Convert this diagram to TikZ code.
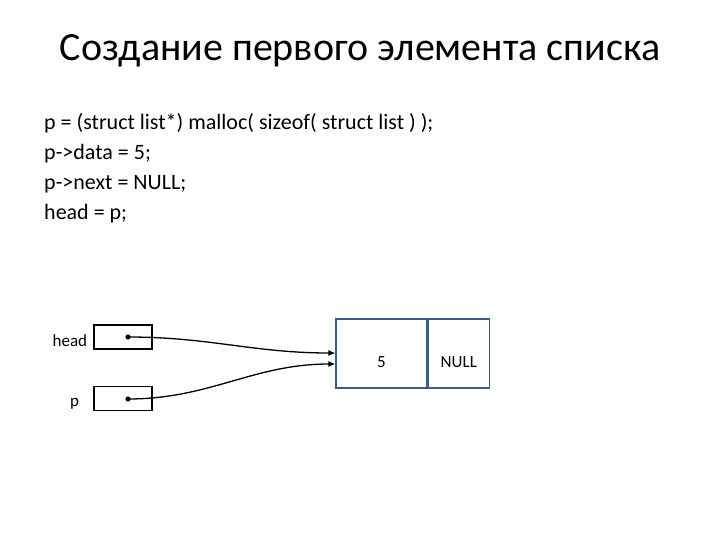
\documentclass[tikz,border=0pt]{standalone}
\usepackage{fontspec}
\setmainfont{Carlito}
\usepackage{tikz}
\usetikzlibrary{arrows.meta, positioning, calc}
\definecolor{cellline}{HTML}{385D8A}

\begin{document}
\begin{tikzpicture}[x=1pt, y=-1pt,
    ptrbox/.style={draw, line width=1.3pt, minimum width=58pt,
                   minimum height=24pt, inner sep=0pt},
    cell/.style={draw=cellline, line width=1.3pt, minimum height=69pt,
                 inner sep=0pt, text height=30pt, text depth=3pt,
                 font=\fontsize{17}{20}\selectfont},
    varname/.style={inner sep=0pt, font=\fontsize{17}{20}\selectfont},
    arrow/.style={-{Latex[length=7pt,width=6pt]}, line width=1.3pt},
]
    \useasboundingbox (0,0) rectangle (720,540);

    \node[font=\fontsize{40}{48}\selectfont, anchor=base] (title) at (360,61)
        {Создание первого элемента списка};
    \node[font=\fontsize{22}{30}\selectfont, align=left, inner sep=0pt,
          anchor=base west] (code) at (44,220)
        {p = (struct list*) malloc( sizeof( struct list ) );\\
         p->data = 5;\\
         p->next = NULL;\\
         head = p;};

    \node[ptrbox] (headbox) at (123,337) {};
    \node[ptrbox] (pbox)    at (123,398.5) {};
    \node[varname, anchor=base east] (headname) at ($(headbox.south west)+(-6,-3)$) {head};
    \node[varname, anchor=base east] (pname)    at ($(pbox.south west)+(-14,-5)$) {p};

    \node[cell, minimum width=91pt] (data) at (381.5,353.5) {5};
    \node[cell, minimum width=61pt, right=0pt of data] (next) {NULL};

    \coordinate (headdot) at ($(headbox.center)+(5,0)$);
    \coordinate (pdot)    at ($(pbox.center)+(5,0.5)$);
    \coordinate (headin)  at ($(data.west)+(0,-0.5)$);
    \coordinate (pin)     at ($(data.west)+(0,10.5)$);
    \fill (headdot) circle (2.6pt);
    \fill (pdot) circle (2.6pt);

    \foreach \a/\b in {headdot/headin, pdot/pin}
        \draw[arrow] (\a) to[out=0, in=180] (\b);
\end{tikzpicture}
\end{document}
